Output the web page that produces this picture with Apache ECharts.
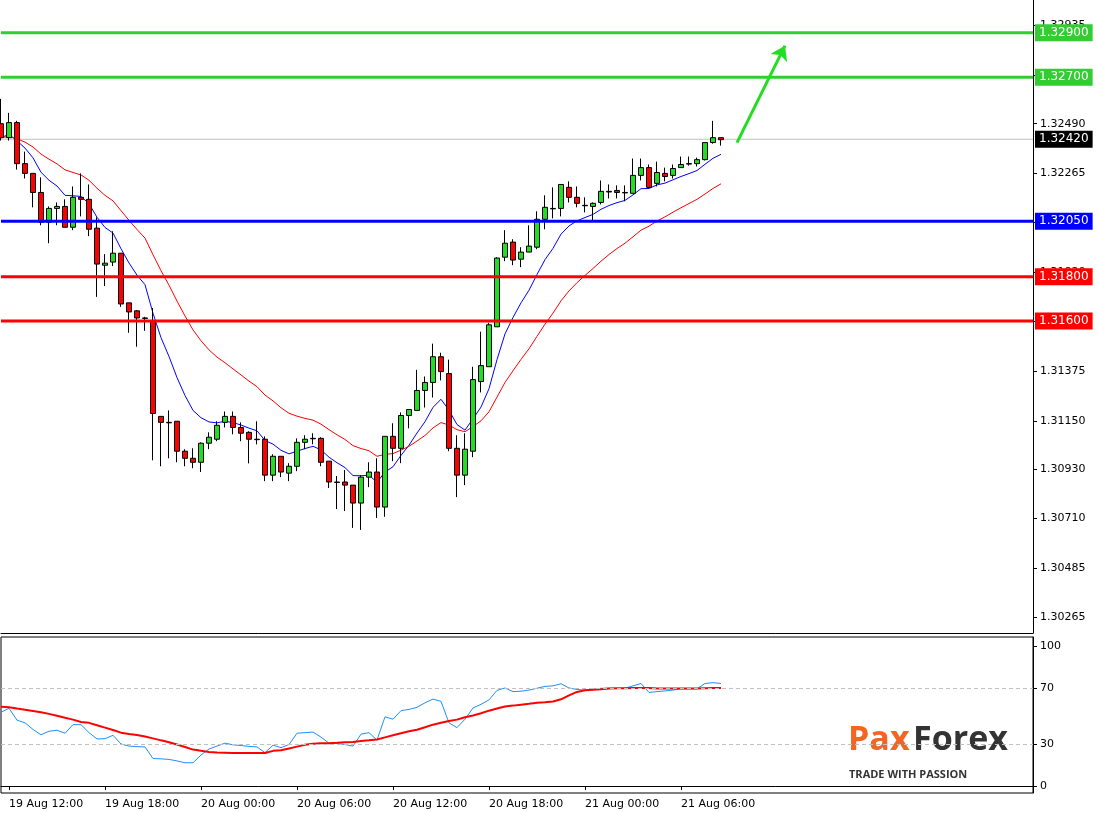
<!DOCTYPE html>
<html><head><meta charset="utf-8">
<script src="https://cdn.jsdelivr.net/npm/echarts@6/dist/echarts.min.js"></script>
<style>html,body{margin:0;padding:0;background:#fff}#c{width:1098px;height:815px}</style>
</head><body><div id="c"></div>
<script>
const opens = [1.3249,1.32427,1.32495,1.3231,1.32266,1.3218,1.32046,1.32108,1.32117,1.32023,1.32158,1.32149,1.32019,1.31852,1.31866,1.31906,1.31682,1.31646,1.31614,1.31601,1.3117,1.31143,1.31148,1.31013,1.30981,1.30963,1.31049,1.31067,1.31143,1.3117,1.3112,1.31098,1.31067,1.31067,1.30905,1.3099,1.30914,1.30945,1.31053,1.31071,1.31071,1.30968,1.30874,1.30874,1.3086,1.30779,1.30896,1.30919,1.30761,1.3108,1.31026,1.31174,1.31197,1.31287,1.31323,1.31439,1.31363,1.31026,1.30905,1.31013,1.31327,1.31394,1.31574,1.31888,1.31956,1.31879,1.31911,1.31933,1.32059,1.32108,1.32108,1.32203,1.32158,1.32122,1.32117,1.32135,1.32185,1.32189,1.3218,1.32176,1.32257,1.32292,1.32221,1.32266,1.32257,1.32292,1.3231,1.3231,1.32328,1.32405,1.32427];
const closes = [1.32427,1.32495,1.3231,1.32266,1.3218,1.32046,1.32108,1.32117,1.32023,1.32158,1.32149,1.32014,1.31857,1.31861,1.31906,1.31677,1.31641,1.31614,1.31612,1.31183,1.31143,1.31141,1.31013,1.30981,1.30963,1.31049,1.31076,1.3113,1.3117,1.3112,1.31094,1.31067,1.31065,1.30905,1.3099,1.30919,1.30945,1.31053,1.31067,1.31069,1.30963,1.30874,1.30872,1.3086,1.30779,1.30896,1.30919,1.30761,1.3108,1.31026,1.31174,1.31201,1.31287,1.31323,1.31439,1.31372,1.31026,1.30905,1.31022,1.31336,1.31399,1.31583,1.31884,1.31951,1.31875,1.31911,1.31938,1.32059,1.32113,1.32106,1.32216,1.32158,1.32131,1.3212,1.32131,1.32185,1.32182,1.3218,1.32178,1.32257,1.32292,1.32203,1.3227,1.32252,1.32288,1.32306,1.32308,1.32328,1.32405,1.32427,1.32418];
const lows = [1.32414,1.32414,1.32283,1.32243,1.32113,1.32032,1.31951,1.32032,1.32023,1.3201,1.32072,1.31983,1.31709,1.31758,1.31848,1.31664,1.31547,1.31484,1.31556,1.30972,1.30945,1.30981,1.30963,1.30945,1.30936,1.30919,1.31022,1.31058,1.3112,1.31089,1.31058,1.30958,1.31044,1.30878,1.30878,1.30896,1.30878,1.30923,1.31022,1.31044,1.30945,1.30847,1.30752,1.30743,1.30667,1.30658,1.30851,1.30712,1.30717,1.30968,1.30959,1.31116,1.31197,1.3121,1.31255,1.31332,1.31013,1.30806,1.3086,1.30986,1.31278,1.31394,1.31574,1.3187,1.31852,1.31843,1.31911,1.31924,1.32014,1.32063,1.32072,1.32135,1.32113,1.3209,1.32054,1.32126,1.32153,1.32153,1.3214,1.32176,1.32234,1.32198,1.32207,1.3223,1.32243,1.32292,1.32301,1.32297,1.32324,1.324,1.32391];
const highs = [1.32602,1.32539,1.32503,1.32364,1.32266,1.32248,1.32117,1.32135,1.32149,1.32207,1.32266,1.32216,1.32068,1.31902,1.32005,1.31906,1.31682,1.3165,1.31619,1.31659,1.3117,1.31197,1.31148,1.31022,1.31026,1.31053,1.31098,1.31148,1.31192,1.31192,1.31143,1.31103,1.31148,1.3108,1.30999,1.3099,1.30959,1.31071,1.31085,1.31094,1.31076,1.30968,1.30901,1.30928,1.3086,1.30905,1.30963,1.30981,1.3108,1.31139,1.31188,1.31201,1.3138,1.3135,1.31498,1.31457,1.31426,1.31085,1.31094,1.31394,1.31552,1.31592,1.31888,1.3201,1.31969,1.31933,1.32032,1.32095,1.32167,1.32203,1.32216,1.3223,1.32207,1.32158,1.32135,1.32234,1.32216,1.32212,1.32212,1.32333,1.32333,1.32306,1.32319,1.32292,1.32306,1.32342,1.32342,1.32337,1.32405,1.32503,1.32427];
const rsi = [52.6,55.5,47.0,45.1,40.4,36.6,39.1,39.8,37.7,43.8,43.8,38.1,33.6,33.8,36.2,30.0,28.5,28.1,27.9,19.6,19.4,19.0,17.9,16.6,16.6,22.1,26.4,28.5,30.6,29.4,28.9,28.3,27.9,23.8,29.1,27.4,29.6,37.7,38.1,38.5,34.9,30.6,30.4,29.6,28.5,37.0,38.1,32.8,49.4,47.7,53.8,54.7,56.2,59.4,62.1,60.4,45.1,41.7,47.7,55.7,58.3,61.5,68.3,70,67.4,67.7,68.5,69.8,71.1,71.5,73.0,70,68.9,68.5,68.9,69.8,69.8,69.6,69.8,71.5,73.2,66.8,67.4,67.9,68.5,69.4,69.4,69.4,73.2,73.8,73.2];
const rsiSignal = [56.6,56.2,55.3,54.5,53.6,52.6,51.5,50.2,48.7,47.4,45.7,45.1,43.4,41.7,40.0,38.1,37.2,36.4,35.3,34.0,32.6,31.3,29.6,27.9,26.0,25.1,24.3,24.0,23.8,23.6,23.6,23.6,23.6,23.6,25.1,25.5,26.8,28.1,29.4,30.2,30.6,30.6,30.9,31.3,31.5,32.1,32.6,33.2,34.7,36.2,37.7,39.1,40.2,41.9,43.8,45.1,46.4,47.4,49.1,50.4,51.9,53.8,55.3,56.8,57.4,58.1,58.7,59.4,59.8,60.4,61.9,64.7,67.2,68.3,68.7,69.1,69.6,69.8,69.8,70,70,70,69.6,69.6,69.6,69.6,69.6,69.6,69.8,70,70];
const priceTicks = [1.32935,1.32710,1.32490,1.32265,1.32045,1.31820,1.31600,1.31375,1.31150,1.30930,1.30710,1.30485,1.30265];
const timeLabels = ['19 Aug 12:00','19 Aug 18:00','20 Aug 00:00','20 Aug 06:00','20 Aug 12:00','20 Aug 18:00','21 Aug 00:00','21 Aug 06:00'];
const levelValues = [1.329, 1.327, 1.3205, 1.318, 1.316];
const levelColors = ['#33cc33', '#33cc33', '#0000ff', '#ff0000', '#ff0000'];
const lastPrice = 1.3242;
const arrowFrom = [92.4, 1.32405], arrowTo = [98, 1.32842];

const N = 130;
const cats = [];
for (let i = 0; i < N; i++) cats.push(String(i));
const labelAt = {};
timeLabels.forEach((t, k) => { labelAt[1 + 12 * k] = t; });

function ema(arr, p) {
  const k = 2 / (p + 1); let e = arr[0]; return arr.map(v => { e = v * k + e * (1 - k); return +e.toFixed(5); });
}
const maFast = ema(closes, 8);
const maSlow = ema(closes, 20);
const ohlc = opens.map((o, i) => [o, closes[i], lows[i], highs[i]]);

const fontF = 'Tahoma, "DejaVu Sans", sans-serif';
function levelSeries(v, color, width, labelBg, z) {
  return {type: 'line', xAxisIndex: 0, yAxisIndex: 0, data: [[0, v], [N - 1, v]], showSymbol: false, silent: true, z: z,
    lineStyle: {color: color, width: width}, clip: false,
    endLabel: {show: true, formatter: v.toFixed(5), color: '#fff', backgroundColor: labelBg,
      padding: [3, 4, 2, 4], fontSize: 12, distance: 2, fontFamily: fontF}};
}

const chart = echarts.init(document.getElementById('c'));
chart.setOption({
  animation: false,
  backgroundColor: '#fff',
  grid: [
    {left: 1, width: 8 * (N - 1), top: 0, height: 633},
    {left: 1, width: 8 * (N - 1), top: 637, height: 156, show: true, borderColor: '#000', borderWidth: 1}
  ],
  xAxis: [
    {type: 'category', data: cats, boundaryGap: false, gridIndex: 0,
      axisLine: {show: true, lineStyle: {color: '#000', width: 1}}, axisTick: {show: false}, axisLabel: {show: false}, splitLine: {show: false}},
    {type: 'category', data: cats, boundaryGap: false, gridIndex: 1,
      axisLine: {show: true, lineStyle: {color: '#000'}},
      axisTick: {show: true, interval: (i) => labelAt[i] !== undefined, length: 4, lineStyle: {color: '#000'}},
      axisLabel: {show: true, interval: (i) => labelAt[i] !== undefined, formatter: (v, i) => labelAt[i] || '',
        align: 'left', margin: 6, fontSize: 11, color: '#000', fontFamily: fontF},
      splitLine: {show: false}}
  ],
  yAxis: [
    {type: 'value', gridIndex: 0, position: 'right', min: 1.30193, max: 1.33048,
      axisLine: {show: true, lineStyle: {color: '#000'}},
      axisTick: {show: true, customValues: priceTicks, length: 4, lineStyle: {color: '#000'}},
      axisLabel: {show: true, customValues: priceTicks, formatter: v => v.toFixed(5), fontSize: 11, color: '#000', margin: 7, fontFamily: fontF},
      splitLine: {show: false}},
    {type: 'value', gridIndex: 1, position: 'right', min: -5, max: 106.4,
      axisLine: {show: true, lineStyle: {color: '#000'}},
      axisTick: {show: true, customValues: [0, 30, 70, 100], length: 4, lineStyle: {color: '#000'}},
      axisLabel: {show: true, customValues: [0, 30, 70, 100], fontSize: 11, color: '#000', margin: 7, fontFamily: fontF},
      splitLine: {show: false}}
  ],
  series: [
    levelSeries(lastPrice, '#c0c0c0', 1, '#000', 1),
    ...levelValues.map((v, i) => levelSeries(v, levelColors[i], 3, levelColors[i], 6)),
    {type: 'candlestick', xAxisIndex: 0, yAxisIndex: 0, data: ohlc, barWidth: 6, z: 4,
      itemStyle: {color: '#22dd22', color0: '#ff0000', borderColor: '#000', borderColor0: '#000', borderWidth: 1}},
    {type: 'line', xAxisIndex: 0, yAxisIndex: 0, data: maFast, showSymbol: false, lineStyle: {color: '#0000ff', width: 1}, z: 3},
    {type: 'line', xAxisIndex: 0, yAxisIndex: 0, data: maSlow, showSymbol: false, lineStyle: {color: '#ff0000', width: 1}, z: 3},
    {type: 'lines', coordinateSystem: 'cartesian2d', xAxisIndex: 0, yAxisIndex: 0, z: 7, silent: true,
      symbol: ['none', 'arrow'], symbolSize: 14,
      lineStyle: {color: '#22dd22', width: 3, opacity: 1},
      data: [{coords: [arrowFrom, arrowTo]}]},
    {type: 'line', xAxisIndex: 1, yAxisIndex: 1, data: rsi, showSymbol: false, lineStyle: {color: '#1e90ff', width: 1},
      markLine: {symbol: 'none', silent: true, label: {show: false},
        data: [{yAxis: 70}, {yAxis: 30}], lineStyle: {color: '#c0c0c0', type: [4, 3], width: 1}}},
    {type: 'line', xAxisIndex: 1, yAxisIndex: 1, data: rsiSignal, showSymbol: false, lineStyle: {color: '#ff0000', width: 2}}
  ],
  graphic: [
    {type: 'text', left: 848, top: 723, style: {text: 'Pax', fontSize: 34, fontWeight: 'bold', fontFamily: '"Open Sans", sans-serif', fill: '#f26522'}},
    {type: 'text', left: 913, top: 723, style: {text: 'Forex', fontSize: 34, fontWeight: 'bold', fontFamily: '"Open Sans", sans-serif', fill: '#333'}},
    {type: 'text', left: 849, top: 769, style: {text: 'TRADE WITH PASSION', fontSize: 11, fontWeight: 'bold', fontFamily: '"Open Sans", sans-serif', fill: '#333', letterSpacing: 2}}
  ]
});
</script></body></html>
